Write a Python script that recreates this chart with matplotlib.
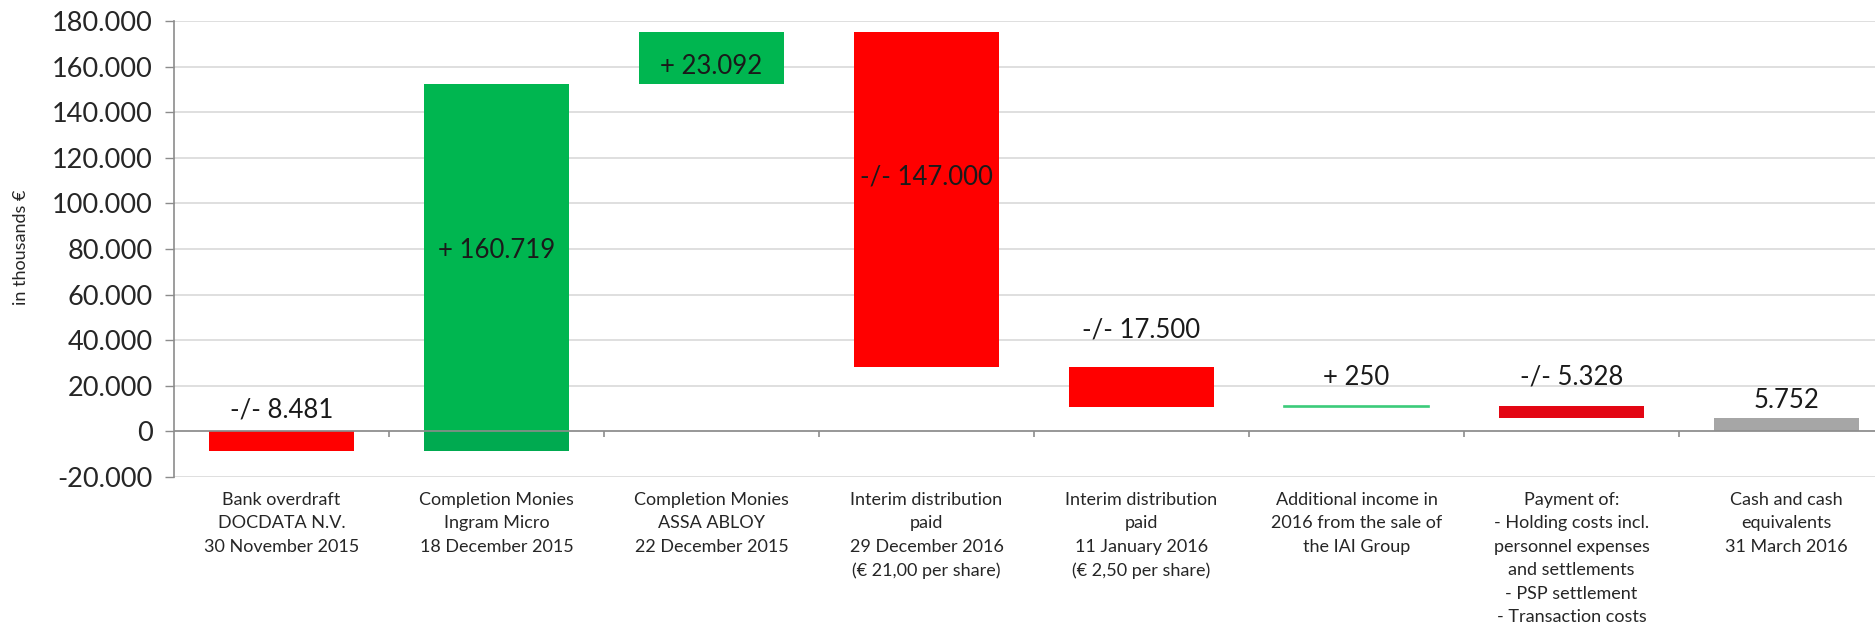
import matplotlib
matplotlib.use("Agg")
import matplotlib.pyplot as plt
import numpy as np

plt.rcParams['font.family'] = ['Lato', 'DejaVu Sans']

# ---------------- data ----------------
categories = [
    "Bank overdraft\nDOCDATA N.V.\n30 November 2015",
    "Completion Monies\nIngram Micro\n18 December 2015",
    "Completion Monies\nASSA ABLOY\n22 December 2015",
    "Interim distribution\npaid\n29 December 2016\n(€ 21,00 per share)",
    "Interim distribution\npaid\n11 January 2016\n(€ 2,50 per share)",
    "Additional income in\n2016 from the sale of\nthe IAI Group",
    "Payment of:\n- Holding costs incl.\npersonnel expenses\nand settlements\n- PSP settlement\n- Transaction costs",
    "Cash and cash\nequivalents\n31 March 2016",
]
start_value = -8481
changes = [160719, 23092, -147000, -17500, 250, -5328]
end_value = 5752
value_labels = ["-/- 8.481", "+ 160.719", "+ 23.092", "-/- 147.000",
                "-/- 17.500", "+ 250", "-/- 5.328", "5.752"]
yticks = [-20000, 0, 20000, 40000, 60000, 80000, 100000, 120000, 140000, 160000, 180000]

# ---------------- styling ----------------
RED = "#FF0000"
RED_DARK = "#E30613"
GREEN = "#00B650"
GREEN_DARK = "#00AA50"
GREEN_LINE = "#3CCB7A"
GREY = "#A6A6A6"
TXT = "#262626"
bar_colors = [RED, GREEN, GREEN, RED, RED, GREEN_LINE, RED_DARK, GREY]
# label placement: 'in' -> centered in bar with pixel offset, 'out' -> above top with pixel offset
label_mode = ["out", "in", "in", "in", "out", "out", "out", "out"]
label_off_px = [21, 17, -9, 22, 37, 29, 29, 18]

W, H = 1875, 625
fig = plt.figure(figsize=(W / 100, H / 100), dpi=100)
ax = fig.add_axes([174 / W, 1 - 477 / H, (1894 - 174) / W, (477 - 21) / H])
ax.set_xlim(-0.5, 7.5)
ax.set_ylim(-20000, 180000)

# compute waterfall bottoms/tops
bottoms, tops = [], []
bottoms.append(start_value); tops.append(0)
level = start_value
for c in changes:
    new = level + c
    bottoms.append(min(level, new)); tops.append(max(level, new))
    level = new
bottoms.append(0); tops.append(end_value)

x = np.arange(len(categories))
bw = 0.67
for i in range(len(x)):
    b, t = bottoms[i], tops[i]
    if i == 1:
        # part below zero slightly darker
        ax.bar(x[i], 0 - b, bottom=b, width=bw, color=GREEN_DARK, zorder=3, linewidth=0)
        ax.bar(x[i], t - 0, bottom=0, width=bw, color=GREEN, zorder=3, linewidth=0)
    elif i == 5:
        ax.bar(x[i], t - b, bottom=b, width=bw, color=GREEN_LINE,
               edgecolor=GREEN_LINE, linewidth=1.2, zorder=3)
    else:
        ax.bar(x[i], t - b, bottom=b, width=bw, color=bar_colors[i], zorder=3, linewidth=0)

# value labels
for i in range(len(x)):
    if label_mode[i] == "in":
        anchor = (bottoms[i] + tops[i]) / 2
    else:
        anchor = tops[i]
    ax.annotate(value_labels[i], xy=(x[i], anchor), xytext=(0, label_off_px[i] * 0.72),
                textcoords="offset points", ha="center", va="center",
                fontsize=18.5, color="#1a1a1a", zorder=5)

# grid & axes
ax.set_yticks(yticks)
ax.set_yticklabels([f"{v:,.0f}".replace(",", ".") for v in yticks])
ax.yaxis.grid(True, color="#D9D9D9", linewidth=1.2, zorder=0)
ax.set_axisbelow(True)
ax.tick_params(axis="y", length=6.5, width=1, color="#8C8C8C", labelsize=19.5,
               labelcolor=TXT, pad=9)
for s in ["top", "right", "bottom"]:
    ax.spines[s].set_visible(False)
ax.spines["left"].set_color("#8C8C8C")
ax.spines["left"].set_linewidth(1.2)

# horizontal category axis at zero
ax.axhline(0, color="#8C8C8C", linewidth=1.2, zorder=4)
bounds = np.arange(0.5, len(categories) - 0.5, 1.0)
ax.vlines(bounds, 0, -2300, color="#8C8C8C", linewidth=1.2, zorder=4)

ax.set_xticks(x)
ax.set_xticklabels(categories, fontsize=13, color=TXT, linespacing=1.58, va="top")
ax.tick_params(axis="x", length=0, pad=10.5)

fig.text(21 / W, 1 - 247 / H, "in thousands €", rotation=90, ha="center", va="center",
         fontsize=13, color=TXT)

fig.savefig("out.png", dpi=100)
